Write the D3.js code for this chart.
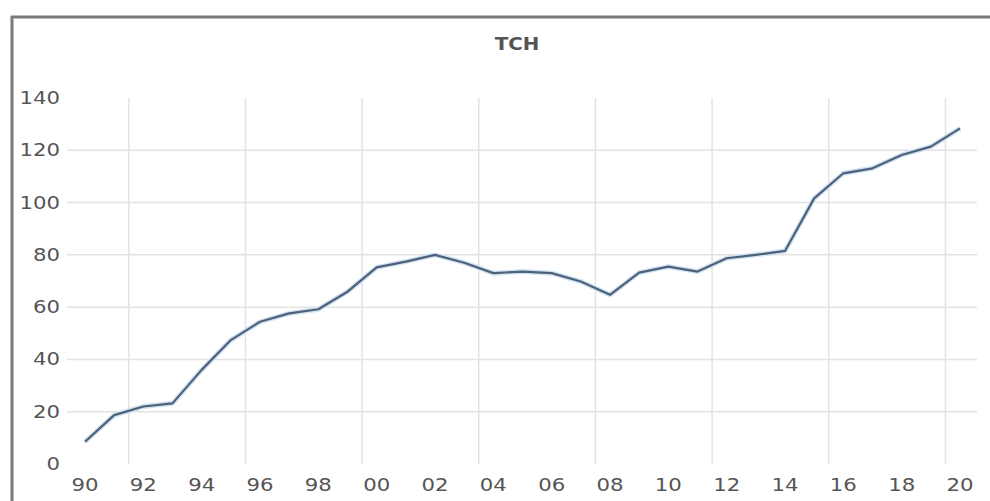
<!DOCTYPE html>
<html><head><meta charset="utf-8">
<script src="https://cdn.jsdelivr.net/npm/d3@7"></script>
<style>html,body{margin:0;padding:0;background:#fff;}svg{display:block;}</style>
</head><body>
<svg id="c" width="990" height="501"></svg>
<script>
const title = "TCH";
const years = ["90","91","92","93","94","95","96","97","98","99","00","01","02","03","04","05","06","07","08","09","10","11","12","13","14","15","16","17","18","19","20"];
const values = [8.5,18.7,22,23.2,36,47.4,54.4,57.6,59.2,65.9,75.2,77.4,80,77,73,73.6,73,69.8,64.7,73.2,75.5,73.6,78.7,80,81.5,101.6,111.2,113.1,118.2,121.4,128.4];
const yTicks = [0,20,40,60,80,100,120,140];
const xTickLabels = ["90","92","94","96","98","00","02","04","06","08","10","12","14","16","18","20"];

const svg = d3.select("#c");
const x = d3.scaleLinear().domain([0, years.length-1]).range([85, 960]);
const y = d3.scaleLinear().domain([0, 140]).range([464, 98]);

// frame
svg.append("line").attr("x1",12).attr("x2",12).attr("y1",16).attr("y2",501).attr("stroke","#7a7a7a").attr("stroke-width",3);
svg.append("line").attr("x1",11).attr("x2",990).attr("y1",17).attr("y2",17).attr("stroke","#7a7a7a").attr("stroke-width",3);

// horizontal gridlines
svg.append("g").selectAll("line").data(yTicks.filter(d=>d>0 && d<140)).join("line")
  .attr("x1",67).attr("x2",977).attr("y1",d=>y(d)).attr("y2",d=>y(d))
  .attr("stroke","#e3e3e3").attr("stroke-width",1.5);

// vertical gridlines at category boundaries every 4 categories
const vgrid = d3.range(1.5, years.length, 4);
svg.append("g").selectAll("line").data(vgrid).join("line")
  .attr("x1",d=>x(d)).attr("x2",d=>x(d)).attr("y1",y(140)).attr("y2",y(0))
  .attr("stroke","#e3e3e3").attr("stroke-width",1.5);

// y labels
svg.append("g").selectAll("text").data(yTicks).join("text")
  .attr("transform",d=>`translate(60,${y(d)+6}) scale(1.25,1)`)
  .attr("text-anchor","end").attr("font-family","DejaVu Sans").attr("font-size",17)
  .attr("fill","#555").text(d=>d);

// x labels
svg.append("g").selectAll("text").data(xTickLabels).join("text")
  .attr("transform",d=>`translate(${x(years.indexOf(d))},491) scale(1.25,1)`)
  .attr("text-anchor","middle").attr("font-family","DejaVu Sans").attr("font-size",17)
  .attr("fill","#555").text(d=>d);

// title
svg.append("text").attr("transform","translate(517,50) scale(1.1,1)").attr("text-anchor","middle")
  .attr("font-family","DejaVu Sans").attr("font-weight","bold").attr("font-size",18)
  .attr("fill","#555").text(title);

// line
const line = d3.line().x((d,i)=>x(i)).y(d=>y(d));
svg.append("path").datum(values).attr("d",line).attr("fill","none")
  .attr("stroke","#cfe3f3").attr("stroke-width",5).attr("stroke-linejoin","round");
svg.append("path").datum(values).attr("d",line).attr("fill","none")
  .attr("stroke","#4f6078").attr("stroke-width",2.2).attr("stroke-linejoin","round");
</script>
</body></html>
